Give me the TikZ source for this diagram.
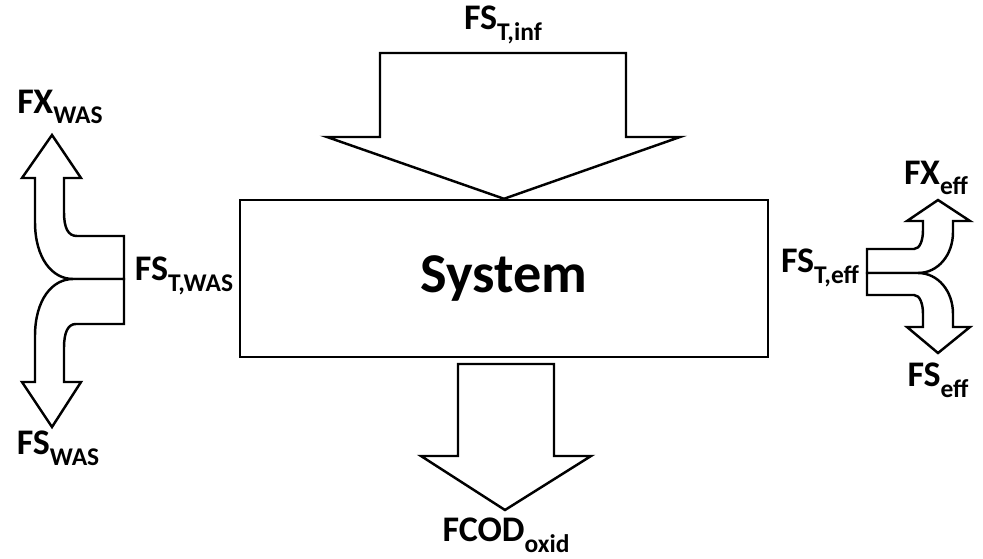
\documentclass[tikz,border=0pt]{standalone}
\usepackage{fontspec}
\setmainfont{Carlito}
\usepackage{tikz}
\usetikzlibrary{positioning}

\newcommand{\flowsub}[1]{\raisebox{-0.3em}{\fontsize{14.5}{15}\selectfont #1}}

\begin{document}
\begin{tikzpicture}[
    x=0.02cm, y=-0.02cm,
    blockarrow/.style={draw, line width=1.4pt, fill=white, line join=miter},
    flowlbl/.style={font=\bfseries\fontsize{20.5}{22}\selectfont, inner sep=0pt},
    sysbox/.style={draw, line width=1.4pt, minimum width=528*0.02cm, minimum height=157*0.02cm,
        font=\bfseries\fontsize{32}{36}\selectfont}
]
\useasboundingbox (0,0) rectangle (983,558);

\node[sysbox] (system) at (504,278.5) {System};

% Influent
\draw[blockarrow] (380,53) -- (626,53) -- (626,137) -- (680,137) -- (system.north)
    -- (327,137) -- (380,137) -- cycle;
\node[flowlbl] (inf) at (503,25) {FS\flowsub{T,inf}};

% Oxidised COD
\draw[blockarrow] (458,364) -- (554,364) -- (554,456) -- (591,456) -- (505,510)
    -- (421,456) -- (458,456) -- cycle;
\node[flowlbl] (oxid) at (506,535) {FCOD\flowsub{oxid}};

% Waste sludge split
\draw[blockarrow] (124,279) -- (124,236) -- (77,236) .. controls (68,236) and (64,228) .. (64,212)
    -- (64,178) -- (81,178) -- (52,135) -- (22,178) -- (35,178) -- (35,222)
    .. controls (35,258) and (52,279) .. (73,279) -- cycle;
\draw[blockarrow] (124,279) -- (124,324) -- (76,324) .. controls (68,324) and (64,332) .. (64,348)
    -- (64,382) -- (81,382) -- (52,427) -- (22,382) -- (35,382) -- (35,336)
    .. controls (35,300) and (52,279) .. (73,279) -- cycle;
\node[flowlbl] (twas) at (184,276) {FS\flowsub{T,WAS}};
\node[flowlbl] (xwas) at (60,107) {FX\flowsub{WAS}};
\node[flowlbl] (swas) at (58,448) {FS\flowsub{WAS}};

% Effluent split
\draw[blockarrow] (867,273) -- (867,249) -- (914,249) .. controls (920,249) and (923,240) .. (923,230)
    -- (923,221) -- (907,221) -- (938,200) -- (970,221) -- (953,221) -- (953,232)
    .. controls (953,255) and (938,273) .. (918,273) -- cycle;
\draw[blockarrow] (867,273) -- (867,295) -- (914,295) .. controls (920,295) and (923,304) .. (923,314)
    -- (923,327) -- (907,327) -- (938,353) -- (970,327) -- (953,327) -- (953,314)
    .. controls (953,291) and (938,273) .. (918,273) -- cycle;
\node[flowlbl] (teff) at (820,268) {FS\flowsub{T,eff}};
\node[flowlbl] (xeff) at (936,178) {FX\flowsub{eff}};
\node[flowlbl] (seff) at (938,380) {FS\flowsub{eff}};
\end{tikzpicture}
\end{document}
